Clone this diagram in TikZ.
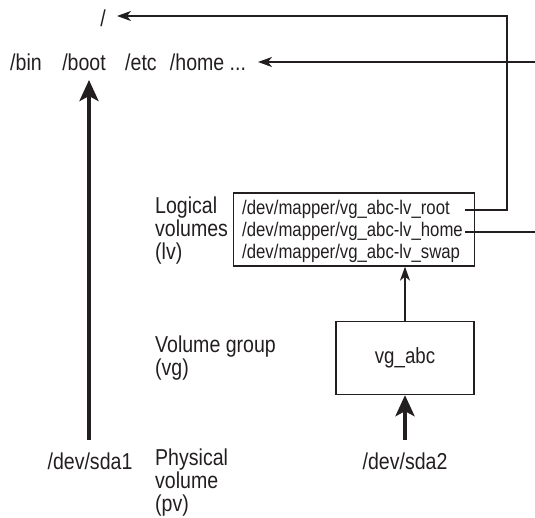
\documentclass[tikz,border=0pt]{standalone}
\usepackage{fontspec}
\setmainfont[FakeStretch=0.85]{Liberation Sans}
\usetikzlibrary{arrows.meta,calc}
\definecolor{ink}{HTML}{231F20}
\tikzset{
  x=1pt,y=-1pt,
  lbl/.style={inner sep=0pt,font=\fontsize{23}{23}\selectfont,text=ink},
  boxtxt/.style={inner sep=0pt,anchor=west,font=\fontsize{19.7}{20}\selectfont,text=ink},
  thinarrow/.style={draw=ink,line width=1.5pt,-{Stealth[length=14pt,width=10pt,inset=4pt]}},
  thinline/.style={draw=ink,line width=1.5pt},
  thickarrow/.style={draw=ink,line width=4pt,-{Stealth[length=21pt,width=19pt,inset=5pt]}},
  boxstyle/.style={draw=ink,line width=1.3pt,inner sep=0pt}
}
\begin{document}
\begin{tikzpicture}
\useasboundingbox (0,0) rectangle (535,518);
% top row
\node[lbl] (root) at (103,18) {/};
\node[lbl] (bin) at (26,62) {/bin};
\node[lbl] (boot) at (84,62) {/boot};
\node[lbl] (etc) at (141,62) {/etc};
\node[lbl] (home) at (208,62) {/home ...};
% labels
\node[lbl,align=left,anchor=west] (lvlab) at (155,231) {Logical\\volumes\\(lv)};
\node[lbl,align=left,anchor=west] (vglab) at (155,358) {Volume group\\(vg)};
\node[lbl,align=left,anchor=west] (pvlab) at (155,483) {Physical\\volume\\(pv)};
% lv box
\node[boxstyle,minimum width=241pt,minimum height=73pt] (lv) at (354,229.5) {};
\node[boxtxt] (lvroot) at (242,209) {/dev/mapper/vg\_abc-lv\_root};
\node[boxtxt] (lvhome) at (242,231) {/dev/mapper/vg\_abc-lv\_home};
\node[boxtxt] (lvswap) at (242,253) {/dev/mapper/vg\_abc-lv\_swap};
% vg box
\node[boxstyle,minimum width=138pt,minimum height=73pt,font=\fontsize{22}{23}\selectfont,text=ink] (vg) at (405,358) {vg\_abc};
% devices
\node[lbl] (sda1) at (90,461) {/dev/sda1};
\node[lbl] (sda2) at (405,461) {/dev/sda2};
% coordinates
\coordinate (rstart) at (465,210);
\coordinate (rcorner) at (507,16);
\coordinate (rtip) at (117,16);
\coordinate (hstart) at (465,232);
\coordinate (hend) at (535,232);
\coordinate (rowstart) at (535,62);
\coordinate (rowtip) at (258,62);
\coordinate (sda1top) at (89,440);
\coordinate (boottip) at (89,80);
\coordinate (sda2top) at (405,440);
% connectors
\draw[thinarrow] (rstart) -| (rcorner) -- (rtip);
\draw[thinline] (hstart) -- (hend);
\draw[thinarrow] (rowstart) -- (rowtip);
\draw[thinarrow] (vg.north) -- (vg.north |- lv.south);
\draw[thickarrow] (sda2top) -- (vg.south);
\draw[thickarrow] (sda1top) -- (boottip);
\end{tikzpicture}
\end{document}
